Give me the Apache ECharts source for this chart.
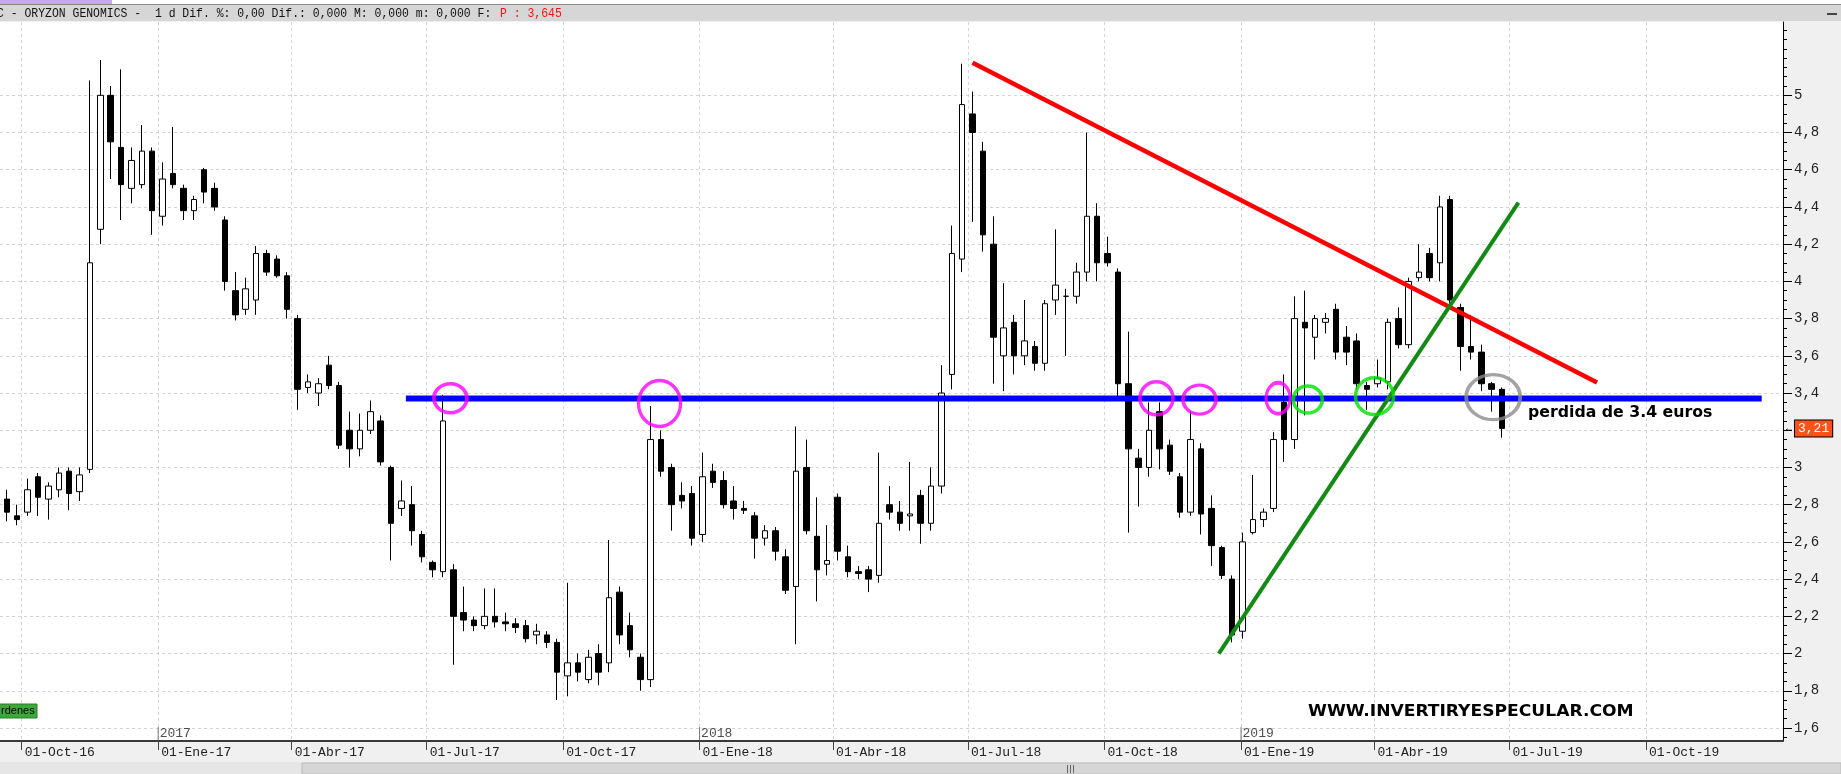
<!DOCTYPE html>
<html><head><meta charset="utf-8">
<script src="https://cdn.jsdelivr.net/npm/echarts@6/dist/echarts.min.js"></script>
<style>html,body{margin:0;padding:0;background:#f0f0f0;overflow:hidden}#c{width:1841px;height:774px}</style>
</head><body><div id="c"></div>
<script>
// ---- data (weekly candles) ----
const weekDates = [
'2016-09-21','2016-09-28','2016-10-05','2016-10-12','2016-10-19','2016-10-26','2016-11-02','2016-11-09','2016-11-16','2016-11-23',
'2016-11-30','2016-12-07','2016-12-14','2016-12-21','2016-12-28','2017-01-04','2017-01-11','2017-01-18','2017-01-25','2017-02-01',
'2017-02-08','2017-02-15','2017-02-22','2017-03-01','2017-03-08','2017-03-15','2017-03-22','2017-03-29','2017-04-05','2017-04-12',
'2017-04-19','2017-04-26','2017-05-03','2017-05-10','2017-05-17','2017-05-24','2017-05-31','2017-06-07','2017-06-14','2017-06-21',
'2017-06-28','2017-07-05','2017-07-12','2017-07-19','2017-07-26','2017-08-02','2017-08-09','2017-08-16','2017-08-23','2017-08-30',
'2017-09-06','2017-09-13','2017-09-20','2017-09-27','2017-10-04','2017-10-11','2017-10-18','2017-10-25','2017-11-01','2017-11-08',
'2017-11-15','2017-11-22','2017-11-29','2017-12-06','2017-12-13','2017-12-20','2017-12-27','2018-01-03','2018-01-10','2018-01-17',
'2018-01-24','2018-01-31','2018-02-07','2018-02-14','2018-02-21','2018-02-28','2018-03-07','2018-03-14','2018-03-21','2018-03-28',
'2018-04-04','2018-04-11','2018-04-18','2018-04-25','2018-05-02','2018-05-09','2018-05-16','2018-05-23','2018-05-30','2018-06-06',
'2018-06-13','2018-06-20','2018-06-27','2018-07-04','2018-07-11','2018-07-18','2018-07-25','2018-08-01','2018-08-08','2018-08-15',
'2018-08-22','2018-08-29','2018-09-05','2018-09-12','2018-09-19','2018-09-26','2018-10-03','2018-10-10','2018-10-17','2018-10-24',
'2018-10-31','2018-11-07','2018-11-14','2018-11-21','2018-11-28','2018-12-05','2018-12-12','2018-12-19','2018-12-26','2019-01-02',
'2019-01-09','2019-01-16','2019-01-23','2019-01-30','2019-02-06','2019-02-13','2019-02-20','2019-02-27','2019-03-06','2019-03-13',
'2019-03-20','2019-03-27','2019-04-03','2019-04-10','2019-04-17','2019-04-24','2019-05-01','2019-05-08','2019-05-15','2019-05-22',
'2019-05-29','2019-06-05','2019-06-12','2019-06-19','2019-06-26'];
const opens = [
2.83,2.74,2.76,2.95,2.83,2.88,2.98,2.87,2.99,4.28, 5.00,4.72,4.50,4.52,4.70,4.35,4.58,4.50,4.38,4.60,
4.50,4.33,3.95,3.85,3.90,4.15,4.12,4.03,3.80,3.43, 3.40,3.55,3.44,3.20,3.10,3.20,3.25,3.00,2.78,2.80,
2.64,2.49,2.44,2.45,2.22,2.18,2.15,2.20,2.17,2.16, 2.15,2.10,2.10,2.06,1.88,1.95,1.86,2.00,1.95,2.33,
2.15,1.98,1.86,3.15,3.00,2.85,2.86,2.64,2.98,2.93, 2.82,2.78,2.74,2.62,2.66,2.52,2.36,3.00,2.63,2.48,
2.84,2.52,2.44,2.45,2.42,2.80,2.76,2.74,2.85,2.70, 2.90,3.50,4.12,4.90,4.70,4.20,3.60,3.78,3.60,3.65,
3.56,3.90,3.92,3.92,4.05,4.35,4.15,4.05,3.45,3.05, 3.00,3.30,3.12,2.95,2.76,3.10,2.78,2.57,2.40,2.12,
2.65,2.72,2.78,3.35,3.15,3.78,3.70,3.78,3.85,3.70, 3.68,3.44,3.45,3.46,3.80,3.66,4.02,4.15,4.10,4.44,
3.86,3.65,3.62,3.45,3.42];
const highs = [
2.88,2.80,2.94,2.97,2.92,3.00,3.00,3.00,5.08,5.19, 5.05,5.14,4.72,4.84,4.72,4.64,4.83,4.52,4.46,4.61,
4.53,4.35,4.05,4.02,4.19,4.17,4.14,4.05,3.82,3.50, 3.48,3.60,3.46,3.30,3.29,3.36,3.28,3.01,2.93,2.90,
2.66,2.50,3.39,2.48,2.36,2.20,2.35,2.35,2.22,2.19, 2.18,2.16,2.12,2.08,2.38,2.00,2.02,2.05,2.61,2.36,
2.22,2.00,3.33,3.20,3.02,2.92,2.90,3.08,3.02,2.98, 2.90,2.82,2.76,2.69,2.68,2.56,3.22,3.15,2.84,2.69,
2.86,2.58,2.47,2.47,3.08,2.90,2.82,3.03,2.88,3.00, 3.55,4.30,5.17,5.02,4.75,4.35,3.99,3.82,3.90,3.68,
3.90,4.28,3.96,4.10,4.80,4.42,4.24,4.07,3.73,3.10, 3.35,3.35,3.15,2.97,3.30,3.13,2.85,2.58,2.42,2.65,
2.96,2.78,3.19,3.50,3.92,3.95,3.82,3.83,3.88,3.76, 3.72,3.46,3.58,3.80,3.86,4.02,4.20,4.18,4.46,4.46,
3.88,3.82,3.66,3.46,3.43];
const lows = [
2.71,2.69,2.74,2.74,2.72,2.84,2.77,2.82,2.97,4.20, 4.55,4.33,4.42,4.50,4.25,4.30,4.50,4.33,4.33,4.42,
4.38,3.95,3.79,3.82,3.82,4.03,4.02,3.80,3.31,3.40, 3.33,3.42,3.10,3.00,3.06,3.18,3.01,2.50,2.74,2.58,
2.49,2.41,2.41,1.94,2.12,2.12,2.13,2.14,2.12,2.11, 2.06,2.05,2.03,1.75,1.77,1.85,1.84,1.83,1.90,2.05,
1.98,1.80,1.82,2.95,2.66,2.78,2.58,2.60,2.89,2.78, 2.72,2.75,2.51,2.58,2.50,2.32,2.05,2.64,2.28,2.42,
2.50,2.41,2.40,2.33,2.38,2.72,2.66,2.66,2.59,2.66, 2.86,3.42,4.05,4.32,4.16,3.45,3.41,3.50,3.55,3.52,
3.52,3.82,3.60,3.88,4.00,4.00,4.08,3.38,2.65,2.79, 2.95,2.99,2.96,2.73,2.74,2.64,2.47,2.40,2.06,2.08,
2.64,2.68,2.76,3.03,3.10,3.28,3.58,3.72,3.58,3.55, 3.42,3.31,3.43,3.42,3.64,3.64,4.00,4.00,4.00,3.86,
3.52,3.58,3.41,3.30,3.16];
const closes = [
2.76,2.72,2.88,2.84,2.90,2.97,2.86,2.96,4.10,5.00, 4.75,4.52,4.65,4.70,4.38,4.55,4.52,4.38,4.44,4.48,
4.40,4.00,3.82,3.96,4.15,4.05,4.03,3.85,3.42,3.46, 3.45,3.44,3.12,3.10,3.20,3.30,3.03,2.70,2.82,2.66,
2.52,2.45,3.25,2.20,2.18,2.15,2.20,2.17,2.16,2.14, 2.08,2.12,2.06,1.90,1.95,1.90,1.98,1.90,2.30,2.10,
2.02,1.86,3.15,2.98,2.80,2.82,2.62,2.95,2.92,2.80, 2.78,2.77,2.62,2.66,2.55,2.34,2.98,2.66,2.45,2.50,
2.55,2.44,2.43,2.40,2.70,2.76,2.70,2.75,2.70,2.90, 3.40,4.15,4.95,4.80,4.25,3.70,3.75,3.60,3.68,3.56,
3.88,3.98,3.92,4.05,4.35,4.10,4.10,3.45,3.10,3.00, 3.20,3.10,2.98,2.76,3.15,2.75,2.58,2.42,2.10,2.60,
2.72,2.76,3.15,3.15,3.80,3.75,3.80,3.80,3.62,3.62, 3.45,3.42,3.48,3.78,3.66,4.00,4.05,4.02,4.40,3.90,
3.65,3.62,3.45,3.42,3.21];

const quarterTicks = ['2016-10-01','2017-01-01','2017-04-01','2017-07-01','2017-10-01','2018-01-01','2018-04-01',
  '2018-07-01','2018-10-01','2019-01-01','2019-04-01','2019-07-01','2019-10-01'];
const yearTicks = ['2017-01-01','2018-01-01','2019-01-01'];
const priceTicks = [1.6,1.8,2,2.2,2.4,2.6,2.8,3,3.2,3.4,3.6,3.8,4,4.2,4.4,4.6,4.8,5];
const monthNames = ['Ene','Feb','Mar','Abr','May','Jun','Jul','Ago','Sep','Oct','Nov','Dic'];

// drawn annotations (date, price)
const supportLine = [['2017-06-17',3.37],['2019-12-18',3.37]];
const resistanceLine = [['2018-07-04',5.175],['2019-08-29',3.456]];
const trendLine = [['2018-12-17',2.0],['2019-07-07',4.423]];
const magentaCircles = [['2017-07-17',3.372],['2017-12-05',3.344],['2018-11-05',3.372],['2018-12-04',3.365],['2019-01-26',3.372]];
const greenCircles = [['2019-02-15',3.365],['2019-04-01',3.383]];
const grayCircles = [['2019-06-20',3.378]];
const magentaSizes = [[33,29],[42,46],[33,33],[33,29],[24,31]];
const greenSizes = [[29,27],[38,37]];
const graySizes = [[54,45]];

const headerText = 'C - ORYZON GENOMICS -  1 d Dif. %: 0,00 Dif.: 0,000 M: 0,000 m: 0,000 F:';
const headerPrice = 'P : 3,645';
const noteText = 'perdida de 3.4 euros';
const siteText = 'WWW.INVERTIRYESPECULAR.COM';

// ---- helpers ----
function ts(s){const p=s.split('-').map(Number);return new Date(p[0],p[1]-1,p[2]).getTime();}
const Y_MIN = 1.53, Y_MAX = 5.394;
const X_MIN = new Date(2016,8,16,9,0).getTime();
const X_MAX = new Date(2020,0,1,8,30).getTime();
const minorTicks = [];
for (let k = 31; k <= 107; k++) minorTicks.push(Math.round(k*5)/100);
const pts = arr => arr.map(p => [ts(p[0]), p[1]]);
const fmtComma = v => String(v).replace('.', ',');
const ELLIPSE = 'path://M0,50A50,50,0,1,1,100,50A50,50,0,1,1,0,50Z';
const MONO = '"Liberation Mono", "DejaVu Sans Mono", monospace';

const candleData = weekDates.map((d,i)=>[ts(d), opens[i], closes[i], lows[i], highs[i]]);
const lastClose = closes[closes.length-1];

function circleSeries(data, sizes, color){
  return {type:'scatter', data: pts(data), symbol: ELLIPSE,
    symbolSize: (v, p) => sizes[p.dataIndex], z: 6, silent: true,
    itemStyle:{color:'rgba(0,0,0,0)', borderColor: color, borderWidth: 3.5}};
}
function lineSeries(data, color, width, z){
  return {type:'line', data: pts(data), symbol:'none', silent:true, z: z,
    lineStyle:{color: color, width: width}};
}

const chart = echarts.init(document.getElementById('c'), null, {renderer:'canvas'});
chart.setOption({
  animation: false,
  backgroundColor: '#f0f0f0',
  grid: {left: 0, right: 58, top: 22, bottom: 33, show: true, backgroundColor: '#ffffff', borderWidth: 0},
  xAxis: {
    type: 'value', min: X_MIN, max: X_MAX, scale: true,
    axisLine: {show: true, onZero: false, lineStyle: {color: '#3a3a3a', width: 2}},
    axisTick: {show: true, customValues: quarterTicks.map(ts), length: 9, lineStyle: {color: '#444'}},
    axisLabel: {customValues: quarterTicks.map(ts), align: 'left', padding: [0,0,0,3], margin: 5,
      fontFamily: MONO, fontSize: 13, color: '#222', hideOverlap: false,
      formatter: v => { const d = new Date(v); return '01-' + monthNames[d.getMonth()] + '-' + String(d.getFullYear()).slice(2); }},
    splitLine: {show: true, lineStyle: {color: '#d4d4d4', type: [3,3], width: 1}}
  },
  yAxis: [{
    type: 'value', position: 'right', min: Y_MIN, max: Y_MAX,
    axisLine: {show: true, lineStyle: {color: '#000', width: 1}},
    axisTick: {show: true, customValues: priceTicks, length: 9, lineStyle: {color: '#000'}},
    axisLabel: {customValues: priceTicks, formatter: fmtComma, fontFamily: MONO, fontSize: 14, color: '#222', margin: 11},
    splitLine: {show: true, lineStyle: {color: '#d4d4d4', type: [3,3], width: 1}}
  },{
    type: 'value', position: 'right', min: Y_MIN, max: Y_MAX,
    axisLine: {show: false},
    axisTick: {show: true, customValues: minorTicks, length: 4, lineStyle: {color: '#000'}},
    axisLabel: {show: false}, splitLine: {show: false}
  }],
  series: [
    {type: 'candlestick', data: candleData, encode: {x: 0, y: [1,2,3,4]}, barWidth: 6, z: 3, clip: false,
      itemStyle: {color: '#ffffff', color0: '#000000', borderColor: '#000000', borderColor0: '#000000', borderWidth: 1}},
    {type: 'line', data: [[X_MIN, lastClose], [X_MAX, lastClose]], symbol: 'none', silent: true, z: 10, clip: false,
      lineStyle: {color: 'rgba(0,0,0,0)', width: 0},
      endLabel: {show: true, distance: 1, formatter: () => '{a|←}{b|' + fmtComma(lastClose) + '}',
        rich: {a: {color: '#000', fontSize: 10, padding: [0,1,0,0]},
               b: {backgroundColor: '#ff5216', color: '#fff', borderColor: '#000', borderWidth: 1,
                   padding: [2,3,1,3], fontFamily: MONO, fontSize: 13}}}},
    lineSeries(supportLine, '#0000ff', 6, 4),
    lineSeries(resistanceLine, '#ff0000', 4.5, 5),
    lineSeries(trendLine, '#138a13', 4, 5),
    circleSeries(magentaCircles, magentaSizes, '#ff00ff'),
    circleSeries(greenCircles, greenSizes, '#00e000'),
    circleSeries(grayCircles, graySizes, '#8c8c8c'),
    {type: 'scatter', data: yearTicks.map(d => [ts(d), Y_MIN]), symbol: 'rect', symbolSize: [1, 14], symbolOffset: [0, -7],
      silent: true, z: 2, itemStyle: {color: '#555'},
      label: {show: true, position: 'right', distance: 1, fontFamily: MONO, fontSize: 13, color: '#222',
        formatter: p => String(new Date(p.value[0]).getFullYear())}}
  ],
  graphic: [
    {type:'rect', z: 100, shape:{x:0,y:0,width:1841,height:5}, style:{fill:'#ffffff'}},
    {type:'rect', z: 101, shape:{x:0,y:0,width:112,height:4}, style:{fill:'#c9a6f2'}},
    {type:'rect', z: 100, shape:{x:0,y:4,width:1841,height:1}, style:{fill:'#8a8a8a'}},
    {type:'rect', z: 100, shape:{x:0,y:5,width:1841,height:16}, style:{fill:'#d6d6d6'}},
    {type:'rect', z: 101, shape:{x:1827,y:13,width:10,height:2}, style:{fill:'#444'}},
    {type:'text', z: 102, x: -3, y: 14, scaleX: 0.88, style:{text: headerText, fill:'#111', font: '13px ' + MONO, align:'left', verticalAlign:'middle'}},
    {type:'text', z: 102, x: 500, y: 14, scaleX: 0.88, style:{text: headerPrice, fill:'#ff1010', font: '13px ' + MONO, align:'left', verticalAlign:'middle'}},
    {type:'text', z: 102, x: 1528, y: 413, scaleX: 1.05, style:{text: noteText, fill:'#000', font: 'bold 15px "DejaVu Sans"', align:'left', verticalAlign:'middle'}},
    {type:'text', z: 102, x: 1308, y: 712, scaleX: 1.07, style:{text: siteText, fill:'#000', font: 'bold 16px "DejaVu Sans"', align:'left', verticalAlign:'middle'}},
    {type:'rect', z: 100, shape:{x:-2,y:704,width:39,height:14}, style:{fill:'#3aa83a', stroke:'#2a7f2a', lineWidth:1}},
    {type:'text', z: 102, x: 1, y: 711, style:{text:'rdenes', fill:'#000', font:'11px "Liberation Sans"', align:'left', verticalAlign:'middle'}},
    {type:'rect', z: 100, shape:{x:0,y:762,width:1841,height:12}, style:{fill:'#e6e6e6'}},
    {type:'rect', z: 101, shape:{x:302,y:763,width:1539,height:11}, style:{fill:'#d6d6d6', stroke:'#bcbcbc', lineWidth:1}},
    {type:'rect', z: 102, shape:{x:1067,y:765,width:1,height:8}, style:{fill:'#666'}},
    {type:'rect', z: 102, shape:{x:1070,y:765,width:1,height:8}, style:{fill:'#666'}},
    {type:'rect', z: 102, shape:{x:1073,y:765,width:1,height:8}, style:{fill:'#666'}}
  ]
});
</script></body></html>
